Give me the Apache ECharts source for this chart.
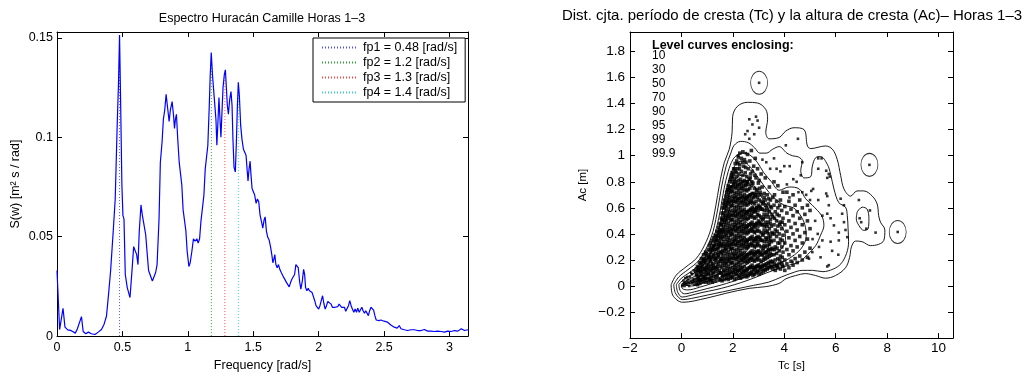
<!DOCTYPE html>
<html><head><meta charset="utf-8">
<script src="https://cdn.jsdelivr.net/npm/echarts@6/dist/echarts.min.js"></script>
<style>html,body{margin:0;padding:0;background:#fff}#c{width:1033px;height:377px}</style>
</head><body><div id="c"></div>
<script>
// ---------- Left chart: spectrum ----------
const spectrum = [[0,0.033],[0.02,0.0033],[0.031,0.0036],[0.046,0.014],[0.061,0.0045],[0.084,0.003],[0.10,0.003],[0.12,0.0023],[0.14,0.0015],[0.156,0.0037],[0.17,0.003],[0.187,0.0098],[0.20,0.0023],[0.22,0.0012],[0.24,0.002],[0.263,0.0012],[0.29,0.0008],[0.315,0.002],[0.34,0.0033],[0.36,0.006],[0.378,0.010],[0.394,0.021],[0.41,0.033],[0.43,0.053],[0.445,0.069],[0.46,0.106],[0.47,0.127],[0.478,0.1515],[0.486,0.119],[0.496,0.076],[0.504,0.0606],[0.512,0.059],[0.522,0.031],[0.537,0.0244],[0.558,0.0194],[0.573,0.0327],[0.586,0.045],[0.598,0.045],[0.609,0.041],[0.619,0.036],[0.629,0.053],[0.642,0.066],[0.652,0.061],[0.665,0.056],[0.678,0.051],[0.688,0.0427],[0.70,0.033],[0.714,0.033],[0.729,0.0277],[0.742,0.0277],[0.754,0.032],[0.765,0.036],[0.78,0.059],[0.79,0.0875],[0.803,0.0975],[0.813,0.109],[0.824,0.114],[0.834,0.1216],[0.847,0.114],[0.857,0.108],[0.867,0.114],[0.88,0.118],[0.89,0.1116],[0.898,0.1045],[0.905,0.109],[0.913,0.1116],[0.923,0.099],[0.934,0.0875],[0.944,0.087],[0.954,0.076],[0.964,0.0635],[0.975,0.0626],[0.985,0.053],[0.995,0.0427],[1.008,0.035],[1.018,0.0369],[1.031,0.0427],[1.043,0.049],[1.056,0.0477],[1.069,0.049],[1.079,0.0468],[1.09,0.049],[1.10,0.0576],[1.113,0.058],[1.123,0.071],[1.133,0.084],[1.143,0.085],[1.153,0.096],[1.164,0.116],[1.171,0.131],[1.179,0.1427],[1.189,0.131],[1.197,0.124],[1.205,0.125],[1.215,0.109],[1.222,0.096],[1.23,0.1075],[1.238,0.12],[1.246,0.109],[1.253,0.100],[1.261,0.1125],[1.269,0.125],[1.279,0.1316],[1.287,0.134],[1.294,0.1257],[1.302,0.116],[1.31,0.1116],[1.32,0.119],[1.33,0.123],[1.338,0.116],[1.345,0.099],[1.353,0.085],[1.363,0.0826],[1.371,0.0975],[1.379,0.116],[1.386,0.1277],[1.394,0.1208],[1.404,0.106],[1.414,0.099],[1.425,0.094],[1.435,0.0934],[1.445,0.091],[1.453,0.084],[1.46,0.078],[1.468,0.084],[1.476,0.088],[1.483,0.081],[1.491,0.0743],[1.50,0.0736],[1.511,0.071],[1.522,0.0668],[1.532,0.069],[1.542,0.0676],[1.552,0.061],[1.563,0.0576],[1.573,0.0543],[1.583,0.0585],[1.591,0.060],[1.601,0.0527],[1.611,0.0497],[1.621,0.0485],[1.632,0.045],[1.642,0.041],[1.65,0.0369],[1.657,0.0385],[1.665,0.041],[1.673,0.036],[1.683,0.0344],[1.693,0.036],[1.703,0.0336],[1.714,0.032],[1.724,0.0327],[1.734,0.0294],[1.744,0.030],[1.755,0.0269],[1.765,0.0269],[1.775,0.0248],[1.785,0.0269],[1.795,0.0286],[1.806,0.029],[1.816,0.031],[1.826,0.036],[1.834,0.0369],[1.844,0.0344],[1.854,0.0277],[1.864,0.0236],[1.875,0.0277],[1.885,0.0336],[1.893,0.031],[1.90,0.0244],[1.91,0.0228],[1.92,0.024],[1.93,0.0228],[1.94,0.0236],[1.95,0.0219],[1.96,0.0228],[1.97,0.0178],[1.98,0.0153],[1.99,0.0145],[2.00,0.0136],[2.01,0.0153],[2.02,0.0178],[2.03,0.0203],[2.04,0.0164],[2.05,0.0136],[2.06,0.0153],[2.07,0.0174],[2.08,0.0178],[2.095,0.0161],[2.105,0.0145],[2.115,0.0153],[2.125,0.0145],[2.135,0.0153],[2.146,0.0148],[2.156,0.0161],[2.166,0.0153],[2.176,0.0145],[2.187,0.0136],[2.197,0.0145],[2.207,0.0125],[2.217,0.012],[2.228,0.0153],[2.238,0.0178],[2.248,0.0153],[2.258,0.0136],[2.269,0.012],[2.279,0.0136],[2.289,0.012],[2.299,0.0141],[2.31,0.012],[2.32,0.0128],[2.33,0.0145],[2.34,0.0128],[2.35,0.0115],[2.36,0.0128],[2.37,0.012],[2.38,0.0103],[2.39,0.0128],[2.40,0.0145],[2.41,0.0153],[2.42,0.0131],[2.43,0.0103],[2.44,0.0081],[2.45,0.0081],[2.46,0.0078],[2.476,0.0081],[2.488,0.0078],[2.50,0.0075],[2.514,0.0075],[2.527,0.007],[2.54,0.0065],[2.552,0.0056],[2.565,0.0053],[2.578,0.0045],[2.591,0.0045],[2.60,0.004],[2.616,0.0053],[2.629,0.0037],[2.642,0.004],[2.655,0.0032],[2.667,0.004],[2.68,0.0028],[2.693,0.0028],[2.706,0.0032],[2.72,0.0037],[2.731,0.0032],[2.744,0.0037],[2.757,0.0028],[2.77,0.0033],[2.783,0.0028],[2.795,0.0028],[2.808,0.0033],[2.821,0.0028],[2.834,0.0025],[2.859,0.0025],[2.885,0.0023],[2.91,0.0025],[2.936,0.0023],[2.962,0.002],[2.987,0.0025],[3.013,0.0023],[3.038,0.0028],[3.064,0.0025],[3.09,0.0037],[3.115,0.0028],[3.1416,0.0032]];
const fpFreq = [0.478, 1.18, 1.283, 1.386];
const fpTop = [0.1515, 0.142, 0.133, 0.127];
const fpNames = ['fp1 = 0.48 [rad/s]', 'fp2 = 1.2 [rad/s]', 'fp3 = 1.3 [rad/s]', 'fp4 = 1.4 [rad/s]'];
const fpColors = ['#5050ff', '#30a030', '#ff4040', '#30d0d0'];
const freqTicks = [0, 0.5, 1, 1.5, 2, 2.5, 3];
const swTicks = [0, 0.05, 0.1, 0.15];

// ---------- Right chart: joint distribution ----------
const tcTicks = [-2, 0, 2, 4, 6, 8, 10];
const acTicks = [-0.2, 0, 0.2, 0.4, 0.6, 0.8, 1, 1.2, 1.4, 1.6, 1.8];
const levelLabels = ['10', '30', '50', '70', '90', '95', '99', '99.9'];

const contour999 = [[-0.4,0.01],[-0.2,0.084],[0.18,0.147],[0.57,0.21],[0.89,0.31],[1.15,0.44],[1.34,0.62],[1.47,0.77],[1.67,0.95],[1.86,1.05],[1.97,1.18],[1.99,1.3],[2.18,1.38],[2.57,1.41],[2.96,1.405],[3.28,1.355],[3.35,1.28],[3.28,1.18],[3.41,1.13],[3.8,1.14],[4.06,1.19],[4.38,1.215],[4.77,1.2],[4.9,1.075],[5.03,1.055],[5.6,1.075],[5.87,1.05],[6.06,0.97],[6.19,0.85],[6.32,0.745],[6.58,0.69],[6.83,0.73],[7.09,0.73],[7.42,0.69],[7.61,0.63],[7.67,0.54],[7.74,0.49],[7.91,0.43],[7.87,0.35],[7.67,0.32],[7.35,0.31],[7.03,0.34],[6.77,0.345],[6.61,0.3],[6.54,0.22],[6.38,0.14],[5.99,0.08],[5.6,0.06],[5.22,0.08],[4.83,0.095],[4.44,0.08],[4.06,0.055],[3.8,0.02],[3.28,-0.005],[2.64,-0.018],[1.73,-0.056],[0.96,-0.094],[0.05,-0.125],[-0.34,-0.07],[-0.4,0.01]];
const contour99 = [[-0.3,0.01],[-0.1,0.07],[0.25,0.125],[0.65,0.19],[0.97,0.29],[1.23,0.42],[1.42,0.6],[1.56,0.76],[1.74,0.92],[1.92,1.02],[2.05,1.08],[2.3,1.11],[2.6,1.1],[2.85,1.06],[3.05,1.02],[3.3,1.02],[3.55,1.05],[3.8,1.07],[4.1,1.02],[4.32,1.0],[4.55,0.99],[4.7,0.96],[4.64,0.885],[4.77,0.83],[5.03,0.84],[5.09,0.92],[5.22,0.985],[5.41,0.994],[5.67,0.935],[5.8,0.86],[5.93,0.745],[6.12,0.64],[6.38,0.605],[6.45,0.54],[6.48,0.44],[6.5,0.34],[6.42,0.25],[6.2,0.17],[5.9,0.13],[5.5,0.11],[5.1,0.12],[4.7,0.12],[4.3,0.1],[3.9,0.07],[3.4,0.03],[2.8,0.005],[2.2,-0.02],[1.6,-0.045],[1.0,-0.07],[0.4,-0.095],[0.05,-0.105],[-0.22,-0.06],[-0.3,0.01]];
const contour99b = [[6.83,0.567],[7.03,0.605],[7.22,0.59],[7.29,0.516],[7.26,0.44],[7.09,0.427],[6.9,0.465],[6.8,0.516],[6.83,0.567]];
const contour95 = [[-0.2,0.01],[0.0,0.06],[0.33,0.105],[0.72,0.17],[1.05,0.27],[1.3,0.4],[1.5,0.57],[1.65,0.74],[1.82,0.88],[2.0,0.97],[2.2,1.01],[2.45,1.02],[2.7,1.0],[2.95,0.95],[3.2,0.87],[3.5,0.8],[3.8,0.735],[4.19,0.76],[4.58,0.745],[4.83,0.67],[5.09,0.62],[5.45,0.54],[5.54,0.465],[5.41,0.39],[5.22,0.31],[4.9,0.24],[4.58,0.185],[4.19,0.16],[3.8,0.135],[3.3,0.1],[2.8,0.06],[2.3,0.025],[1.8,-0.005],[1.3,-0.03],[0.8,-0.05],[0.3,-0.075],[0.03,-0.085],[-0.14,-0.05],[-0.2,0.01]];
const contour90 = [[-0.1,0.01],[0.08,0.05],[0.42,0.09],[0.8,0.15],[1.13,0.25],[1.38,0.38],[1.57,0.55],[1.73,0.72],[1.9,0.85],[2.1,0.93],[2.35,0.96],[2.6,0.93],[2.85,0.87],[3.1,0.8],[3.4,0.72],[3.7,0.66],[4.0,0.62],[4.35,0.6],[4.6,0.55],[4.8,0.47],[4.85,0.38],[4.7,0.3],[4.4,0.24],[4.0,0.19],[3.5,0.15],[3.0,0.11],[2.5,0.07],[2.0,0.035],[1.5,0.005],[1.0,-0.02],[0.5,-0.045],[0.12,-0.06],[-0.05,-0.035],[-0.1,0.01]];
const contour70 = [[0.0,0.01],[0.18,0.04],[0.52,0.075],[0.9,0.13],[1.22,0.23],[1.47,0.36],[1.66,0.53],[1.82,0.68],[1.98,0.78],[2.2,0.84],[2.45,0.85],[2.7,0.8],[3.0,0.72],[3.3,0.62],[3.6,0.53],[3.9,0.46],[4.05,0.38],[3.95,0.3],[3.6,0.24],[3.2,0.19],[2.7,0.14],[2.2,0.09],[1.7,0.05],[1.2,0.02],[0.7,-0.01],[0.25,-0.03],[0.04,-0.02],[0.0,0.01]];
const contour50 = [[0.1,0.01],[0.6,0.06],[1.0,0.12],[1.35,0.24],[1.6,0.4],[1.8,0.55],[2.05,0.65],[2.35,0.68],[2.7,0.63],[3.0,0.54],[3.3,0.44],[3.45,0.35],[3.3,0.27],[2.9,0.21],[2.4,0.15],[1.9,0.1],[1.4,0.06],[0.9,0.03],[0.4,0.0],[0.1,0.01]];
const contour30 = [[0.3,0.02],[0.9,0.07],[1.4,0.17],[1.75,0.32],[2.05,0.45],[2.4,0.5],[2.75,0.44],[2.95,0.35],[2.8,0.26],[2.4,0.2],[1.9,0.14],[1.4,0.09],[0.9,0.05],[0.3,0.02]];
const contour10 = [[1.9,0.3],[2.2,0.38],[2.5,0.37],[2.6,0.3],[2.4,0.24],[2.1,0.22],[1.9,0.3]];
const isolatedContours = [[3.02,1.56],[7.31,0.93],[8.41,0.415]];

// sparse crest observations (Tc, Ac)
const crestPairs = [[0.05,0.01],[0.1,0.02],[0.12,0.0],[0.18,0.03],[0.2,0.01],[0.25,0.05],[0.28,0.02],[0.3,0.0],[0.33,0.07],[0.36,0.04],[0.4,0.02],[0.42,0.09],[0.45,0.05],[0.48,0.12],[0.5,0.01],[0.08,0.04],[0.15,0.06],[0.22,0.07],[0.38,0.1],[0.46,0.03],[0.03,0.0],[0.14,0.02],[0.26,0.03],
[2.64,1.28],[2.9,1.3],[2.96,1.27],[2.76,1.24],[3.02,1.215],[2.57,1.19],[2.48,1.165],[2.83,1.165],[2.64,1.13],[3.02,1.56],[7.31,0.93],[8.41,0.415],
[4.06,1.08],[4.53,1.13],[4.7,0.95],[4.0,0.92],[4.21,0.92],[4.64,0.85],[4.48,0.8],[5.32,0.98],[5.45,0.98],[5.32,0.9],[5.63,0.885],[5.73,0.86],[5.67,0.83],[5.77,0.84],[5.12,0.745],[5.05,0.73],[5.63,0.71],[5.67,0.69],[5.32,0.66],[6.19,0.67],[6.32,0.62],[5.73,0.62],[6.9,0.66],[7.33,0.58],[6.99,0.49],[6.93,0.52],[7.19,0.44],[7.55,0.41],[6.25,0.555],[5.8,0.52],[5.67,0.555],[5.48,0.54],[6.32,0.49],[5.93,0.465],[6.12,0.41],[6.38,0.43],[6.45,0.375],[5.8,0.34],[5.48,0.35],[5.35,0.3],[6.12,0.35],[6.1,0.24],[5.73,0.16],[5.41,0.22],[5.86,0.27],[5.67,0.15],[5.09,0.26],[4.96,0.21],[4.32,0.185],
[3.3,0.95],[3.6,0.98],[3.45,0.9],[3.85,0.88],[3.15,0.97],[4.35,0.82],[4.1,0.78],[4.55,0.72],[4.85,0.7],[5.0,0.66],[2.5,1.02],[2.2,1.0],[3.7,0.9],[4.2,0.68],[5.2,0.5],[5.3,0.4],[5.1,0.36],[4.7,0.72]];

// dense crest observations, one row per Tc value: [Tc, Ac, Ac, ...]
const crestColumns = [
[0.52,0.05],[0.55,0.11],[0.58,0.02,0.09,0.13],[0.6,0.08],[0.62,0.15],[0.63,0.01],[0.65,0.04],[0.66,0.07],[0.67,0.14],[0.68,0.11],[0.7,0.18],[0.71,0.05],[0.72,0.02],[0.73,0.12],[0.74,0.08],[0.76,0.14],[0.77,0.18],[0.78,0.21],[0.79,0.09],[0.8,0.05],[0.81,0.15],[0.82,0.11],[0.84,0.17],[0.85,0.03],[0.86,0.24],[0.87,0.19],[0.88,0.07],[0.89,0.21],[0.9,0.13],[0.91,0.05],[0.92,0.2],[0.93,0.09],[0.94,0.26],[0.95,0.14],[0.96,0.03],[0.97,0.1],[0.98,0.16],[0.99,0.23],
[0.645,0.06,0.12],[0.745,0.04,0.11,0.16],[0.845,0.07,0.13,0.2],[0.945,0.06,0.12,0.18,0.25],[1.045,0.09,0.15,0.22],[1.145,0.06,0.13,0.2,0.28],[1.245,0.1,0.16,0.23,0.3],[1.345,0.07,0.14,0.2,0.28,0.35],[1.445,0.1,0.17,0.23,0.32,0.38],
[1.01,0.06],[1.02,0.13],[1.03,0.2],[1.04,0.28],[1.05,0.03],[1.06,0.1],[1.07,0.17],[1.08,0.24],[1.09,0.31],[1.1,0.05,0.22],[1.11,0.12],[1.12,0.19],[1.13,0.26],[1.14,0.33],[1.15,0.08],[1.16,0.15,0.04],[1.17,0.22],[1.18,0.29],[1.19,0.35],[1.2,0.03,0.27],[1.21,0.1],[1.22,0.17],[1.23,0.24,0.13],[1.24,0.31],[1.25,0.37],[1.26,0.07],[1.27,0.14],[1.28,0.21,0.31],[1.29,0.28],[1.3,0.34],[1.31,0.39],[1.32,0.04],[1.33,0.11,0.21],[1.34,0.18],[1.35,0.25,0.36],[1.36,0.32],[1.37,0.38],[1.38,0.42,0.13],[1.39,0.08],[1.4,0.15],[1.41,0.22],[1.42,0.29,0.39],[1.43,0.35],[1.44,0.41,0.24],[1.45,0.45],[1.46,0.05,0.3],[1.47,0.12,0.43],[1.48,0.19],[1.49,0.26],[1.5,0.33,0.4,0.48],
[1.52,0.05,0.15,0.26,0.37,0.47],[1.55,0.1,0.21,0.32,0.43,0.52],[1.58,0.04,0.14,0.25,0.36,0.47,0.56],[1.61,0.08,0.19,0.3,0.41,0.51,0.6],[1.64,0.12,0.23,0.34,0.45,0.56,0.63],[1.67,0.05,0.16,0.27,0.38,0.49,0.6,0.66],[1.7,0.09,0.2,0.31,0.42,0.53,0.64],[1.73,0.14,0.25,0.36,0.47,0.58,0.69],[1.76,0.06,0.17,0.28,0.39,0.5,0.61,0.72],[1.79,0.1,0.21,0.32,0.43,0.54,0.65,0.74],[1.82,0.05,0.15,0.26,0.37,0.48,0.59,0.7,0.77],[1.85,0.09,0.2,0.31,0.42,0.53,0.64,0.75],[1.88,0.13,0.24,0.35,0.46,0.57,0.68,0.8],[1.91,0.06,0.17,0.28,0.39,0.5,0.61,0.72,0.82],[1.94,0.1,0.21,0.32,0.43,0.54,0.65,0.76,0.85],[1.97,0.14,0.25,0.36,0.47,0.58,0.69,0.8,0.87],
[2.0,0.07,0.18,0.29,0.4,0.51,0.62,0.73,0.84],[2.03,0.12,0.23,0.34,0.45,0.56,0.67,0.78,0.9],[2.06,0.05,0.16,0.27,0.38,0.49,0.6,0.71,0.82],[2.09,0.1,0.21,0.32,0.43,0.54,0.65,0.76,0.88,0.94],[2.12,0.14,0.25,0.36,0.47,0.58,0.69,0.8],[2.15,0.06,0.17,0.28,0.39,0.5,0.61,0.72,0.84,0.96],[2.18,0.11,0.22,0.33,0.44,0.55,0.66,0.77,0.9],[2.21,0.15,0.26,0.37,0.48,0.59,0.7,0.81,0.99],[2.24,0.07,0.18,0.29,0.4,0.51,0.62,0.73,0.86],[2.27,0.12,0.23,0.34,0.45,0.56,0.67,0.78,0.93,1.02],[2.3,0.06,0.16,0.27,0.38,0.49,0.6,0.71,0.82],[2.33,0.1,0.21,0.32,0.43,0.54,0.65,0.76,0.88,0.98],[2.36,0.14,0.25,0.36,0.47,0.58,0.69,0.8],[2.39,0.07,0.18,0.29,0.4,0.51,0.62,0.73,0.85,1.03],[2.42,0.11,0.22,0.33,0.44,0.55,0.66,0.77,0.92],[2.45,0.15,0.26,0.37,0.48,0.59,0.7,0.81,0.97],[2.48,0.08,0.19,0.3,0.41,0.52,0.63,0.74,0.87],
[2.51,0.12,0.23,0.34,0.45,0.56,0.67,0.78,0.95],[2.54,0.07,0.18,0.29,0.4,0.51,0.62,0.73,0.84],[2.57,0.13,0.24,0.35,0.46,0.57,0.68,0.8,1.01],[2.6,0.08,0.19,0.3,0.41,0.52,0.63,0.74,0.9],[2.63,0.14,0.25,0.36,0.47,0.58,0.69,0.82],[2.66,0.09,0.2,0.31,0.42,0.53,0.64,0.75,0.96],[2.69,0.15,0.26,0.37,0.48,0.59,0.7,0.86],[2.72,0.1,0.21,0.32,0.43,0.54,0.65,0.77,1.04],[2.75,0.16,0.27,0.38,0.49,0.6,0.71,0.88],[2.78,0.08,0.2,0.31,0.42,0.53,0.64,0.79],[2.81,0.13,0.24,0.35,0.46,0.57,0.68,0.92],[2.84,0.09,0.19,0.3,0.41,0.52,0.63,0.75],[2.87,0.14,0.25,0.36,0.47,0.58,0.7,0.98],[2.9,0.1,0.2,0.31,0.42,0.53,0.65,0.83],[2.93,0.15,0.26,0.37,0.48,0.6,0.74],[2.96,0.11,0.21,0.32,0.43,0.55,0.68,0.9],[2.99,0.16,0.27,0.38,0.5,0.62,0.79],
[3.02,0.09,0.2,0.31,0.42,0.54,0.66,0.81],[3.06,0.14,0.25,0.36,0.48,0.6,0.72],[3.1,0.1,0.19,0.3,0.41,0.53,0.65,0.86],[3.14,0.15,0.24,0.35,0.47,0.59,0.76],[3.18,0.11,0.2,0.29,0.4,0.52,0.64],[3.22,0.16,0.25,0.34,0.46,0.58,0.71],[3.26,0.12,0.21,0.3,0.41,0.53,0.66,0.83],[3.3,0.17,0.26,0.36,0.47,0.6],[3.34,0.13,0.22,0.31,0.42,0.55,0.7],[3.38,0.18,0.27,0.37,0.49,0.63],[3.42,0.14,0.23,0.32,0.44,0.57,0.76],[3.46,0.19,0.28,0.38,0.51,0.66],[3.5,0.15,0.24,0.34,0.46,0.6],
[3.55,0.13,0.19,0.28,0.4,0.53,0.68],[3.6,0.15,0.24,0.35,0.47,0.62,0.8],[3.65,0.12,0.2,0.3,0.43,0.57],[3.7,0.16,0.25,0.38,0.5,0.65],[3.75,0.14,0.21,0.33,0.46,0.6,0.77],[3.8,0.17,0.27,0.4,0.54],[3.85,0.13,0.23,0.36,0.49,0.66],[3.9,0.18,0.3,0.44,0.58],[3.95,0.15,0.26,0.39,0.52,0.72],
[4.02,0.12,0.2,0.33,0.47,0.61],[4.1,0.17,0.28,0.42,0.56,0.72],[4.18,0.14,0.24,0.37,0.5,0.65],[4.26,0.19,0.31,0.45,0.59],[4.34,0.16,0.27,0.4,0.54,0.7],[4.42,0.21,0.35,0.48,0.62],[4.5,0.18,0.3,0.43,0.57],[4.6,0.23,0.38,0.52,0.66],[4.7,0.2,0.33,0.47,0.6],[4.8,0.26,0.41,0.55],[4.9,0.22,0.36,0.5,0.62],[5.0,0.29,0.44,0.58],
[1.535,0.1,0.2,0.31,0.42],[1.595,0.07,0.17,0.27,0.38,0.5],[1.655,0.11,0.21,0.32,0.43,0.54],[1.715,0.08,0.18,0.29,0.4,0.51,0.62],[1.775,0.12,0.23,0.34,0.45,0.56,0.67],[1.835,0.08,0.19,0.3,0.41,0.52,0.63,0.73],[1.895,0.11,0.22,0.33,0.44,0.55,0.66,0.76],[1.955,0.07,0.18,0.29,0.4,0.51,0.62,0.73,0.83],[2.015,0.1,0.21,0.32,0.43,0.54,0.65,0.76,0.86],[2.075,0.13,0.24,0.35,0.46,0.57,0.68,0.79,0.9],[2.135,0.09,0.2,0.31,0.42,0.53,0.64,0.75,0.87],[2.195,0.12,0.23,0.34,0.45,0.56,0.67,0.78,0.94],[2.255,0.08,0.2,0.31,0.42,0.53,0.64,0.75,0.9],[2.315,0.13,0.24,0.35,0.46,0.57,0.68,0.79],[2.375,0.09,0.2,0.31,0.42,0.53,0.64,0.75,0.95],[2.435,0.12,0.23,0.35,0.46,0.57,0.68,0.8],[2.495,0.1,0.21,0.32,0.43,0.54,0.65,0.77,0.91],[2.555,0.13,0.24,0.35,0.46,0.57,0.69,0.8],[2.615,0.1,0.21,0.32,0.43,0.55,0.66,0.78],[2.675,0.14,0.25,0.36,0.47,0.58,0.7,0.83],[2.735,0.11,0.22,0.33,0.44,0.56,0.67,0.8],[2.795,0.14,0.25,0.36,0.47,0.59,0.71],[2.855,0.12,0.23,0.34,0.45,0.57,0.69,0.85],[2.915,0.15,0.26,0.37,0.48,0.6,0.72],[2.975,0.12,0.23,0.34,0.46,0.58,0.7],[3.035,0.15,0.26,0.37,0.49,0.61,0.75],[3.095,0.13,0.24,0.35,0.47,0.59,0.7],[3.155,0.16,0.27,0.39,0.51,0.63],[3.215,0.13,0.22,0.31,0.43,0.55,0.68],[3.275,0.16,0.26,0.37,0.49,0.62],[3.335,0.14,0.24,0.34,0.46,0.58],[3.395,0.17,0.28,0.4,0.53,0.67],[3.455,0.15,0.25,0.35,0.48,0.61],[3.52,0.18,0.29,0.41,0.55],[3.62,0.17,0.28,0.4,0.52,0.7],[3.72,0.15,0.29,0.42,0.55],[3.82,0.2,0.33,0.47,0.62],[3.92,0.16,0.22,0.35,0.49]];

// ---------- build ----------
const FONT = '"Liberation Sans", Arial, Helvetica, sans-serif';
function fmtNum(v) {
  const r = +(+v).toFixed(4);
  return r < 0 ? '\u2212' + Math.abs(r) : String(r);
}
function tickFormatter(ticks) {
  return function (v) {
    const t = ticks.find(t => Math.abs(t - v) < 1e-6);
    return t === undefined ? '' : fmtNum(t);
  };
}
function axis(o) {
  const base = {
    type: 'value',
    axisLine: { show: true, onZero: false, lineStyle: { color: '#000', width: 1 } },
    axisTick: { show: true, inside: true, length: 5, lineStyle: { color: '#000', width: 1 } },
    splitLine: { show: false },
    axisLabel: { color: '#000', fontFamily: FONT, fontSize: 12.5, margin: 5 },
    nameTextStyle: { color: '#000', fontFamily: FONT, fontSize: 12.5 },
    nameLocation: 'middle'
  };
  const out = Object.assign({}, base, o);
  if (o.axisLabel) out.axisLabel = Object.assign({}, base.axisLabel, o.axisLabel);
  if (o.nameTextStyle) out.nameTextStyle = Object.assign({}, base.nameTextStyle, o.nameTextStyle);
  return out;
}

const denseData = [];
crestColumns.forEach(col => { for (let i = 1; i < col.length; i++) denseData.push([col[0], col[i]]); });

const contourList = [contour999, contour99, contour99b, contour95, contour90, contour70, contour50, contour30, contour10];

const series = [];
fpFreq.forEach((f, i) => {
  series.push({
    type: 'line', name: fpNames[i], xAxisIndex: 0, yAxisIndex: 0,
    data: [[f, 0], [f, fpTop[i]]], symbol: 'none', silent: true, z: 2,
    color: fpColors[i],
    lineStyle: { color: fpColors[i], width: 1, type: [1, 2] }
  });
});
series.push({
  type: 'line', name: 'S', xAxisIndex: 0, yAxisIndex: 0, data: spectrum,
  symbol: 'none', silent: true, z: 3, color: '#0000ff',
  lineStyle: { color: '#0000ff', width: 1.2 }
});
contourList.forEach(c => {
  series.push({
    type: 'line', xAxisIndex: 2, yAxisIndex: 2, data: c, symbol: 'none', silent: true,
    smooth: 0.35, z: 2, lineStyle: { color: '#000', width: 0.9 }
  });
});
series.push({
  type: 'scatter', xAxisIndex: 2, yAxisIndex: 2, data: isolatedContours, symbol: 'circle',
  symbolSize: [17, 23], silent: true, z: 2,
  itemStyle: { color: 'rgba(0,0,0,0)', borderColor: '#000', borderWidth: 0.9 }
});
series.push({
  type: 'scatter', xAxisIndex: 2, yAxisIndex: 2, data: denseData, symbol: 'rect',
  symbolSize: 3.6, silent: true, z: 3, itemStyle: { color: '#000' }
});
series.push({
  type: 'scatter', xAxisIndex: 2, yAxisIndex: 2, data: crestPairs, symbol: 'rect',
  symbolSize: 2.6, silent: true, z: 3, itemStyle: { color: '#000' }
});

const chart = echarts.init(document.getElementById('c'), null, { renderer: 'canvas' });
chart.setOption({
  animation: false,
  backgroundColor: '#fff',
  grid: [
    { left: 57, top: 32, width: 411, height: 307 },
    { left: 630, top: 32, width: 323, height: 307 }
  ],
  xAxis: [
    axis({ gridIndex: 0, position: 'bottom', min: 0, max: Math.PI, interval: 0.5,
      name: 'Frequency [rad/s]', nameGap: 18,
      axisLabel: { formatter: tickFormatter(freqTicks) } }),
    axis({ gridIndex: 0, position: 'top', min: 0, max: Math.PI, interval: 0.5,
      axisLabel: { show: false } }),
    axis({ gridIndex: 1, position: 'bottom', min: -2, max: 10.56, interval: 2,
      name: 'Tc [s]', nameGap: 17, nameTextStyle: { fontSize: 11.5 },
      axisLabel: { fontSize: 13.5, margin: 3, formatter: tickFormatter(tcTicks) } }),
    axis({ gridIndex: 1, position: 'top', min: -2, max: 10.56, interval: 2,
      axisLabel: { show: false } })
  ],
  yAxis: [
    axis({ gridIndex: 0, position: 'left', min: 0, max: 0.153, interval: 0.05,
      name: 'S(w) [m² s / rad]', nameGap: 35, nameRotate: 90,
      axisLabel: { margin: 4, formatter: tickFormatter(swTicks) } }),
    axis({ gridIndex: 0, position: 'right', min: 0, max: 0.153, interval: 0.05,
      axisLabel: { show: false } }),
    axis({ gridIndex: 1, position: 'left', min: -0.4, max: 1.95, interval: 0.2,
      name: 'Ac [m]', nameGap: 41, nameRotate: 90, nameTextStyle: { fontSize: 11.5 },
      axisLabel: { fontSize: 13.5, margin: 5, formatter: tickFormatter(acTicks) } }),
    axis({ gridIndex: 1, position: 'right', min: -0.4, max: 1.95, interval: 0.2,
      axisLabel: { show: false } })
  ],
  legend: {
    data: fpNames, left: 313, top: 38, orient: 'vertical',
    itemWidth: 36, itemHeight: 13, itemGap: 2, padding: [3, 8, 3, 8],
    borderColor: '#000', borderWidth: 1, backgroundColor: '#fff',
    selectedMode: false,
    itemStyle: { opacity: 0 },
    textStyle: { color: '#000', fontFamily: FONT, fontSize: 12.5 }
  },
  graphic: [
    { type: 'text', x: 262, y: 19, silent: true,
      style: { text: 'Espectro Huracán Camille Horas 1–3', fill: '#000', fontFamily: FONT, fontSize: 12.5, align: 'center', verticalAlign: 'middle' } },
    { type: 'text', x: 792, y: 16, silent: true,
      style: { text: 'Dist. cjta. período de cresta (Tc) y la altura de cresta (Ac)– Horas 1–3', fill: '#000', fontFamily: FONT, fontSize: 15, align: 'center', verticalAlign: 'middle' } },
    { type: 'text', x: 652, y: 46, silent: true, z: 10,
      style: { text: 'Level curves enclosing:', fill: '#000', fontFamily: FONT, fontSize: 12.5, fontWeight: 'bold', align: 'left', verticalAlign: 'middle' } },
    { type: 'text', x: 652, y: 49, silent: true, z: 10,
      style: { text: levelLabels.join('\n'), fill: '#000', fontFamily: FONT, fontSize: 12, lineHeight: 14, align: 'left', verticalAlign: 'top' } }
  ],
  series: series
});
</script></body></html>
